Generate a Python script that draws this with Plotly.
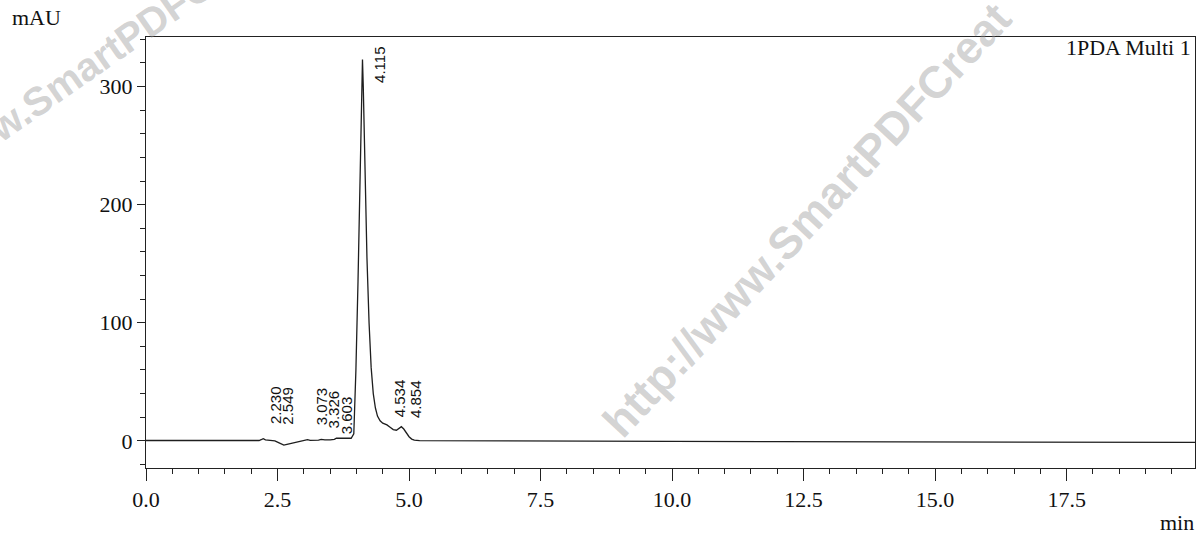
import numpy as np
import plotly.graph_objects as go

# ---------------- data ----------------
time_min = [0.0, 1.0, 2.0, 2.15, 2.20, 2.23, 2.27, 2.35, 2.45, 2.52, 2.58, 2.62, 2.70, 2.80,
            2.95, 3.03, 3.07, 3.12, 3.20, 3.28, 3.33, 3.40, 3.50, 3.58, 3.62, 3.75, 3.90,
            3.95, 3.99, 4.03, 4.07, 4.10, 4.115, 4.13, 4.16, 4.20, 4.24, 4.28, 4.32, 4.36,
            4.40, 4.45, 4.50, 4.534, 4.58, 4.64, 4.70, 4.76, 4.81, 4.854, 4.90, 4.95, 5.00,
            5.05, 5.10, 5.20, 6.0, 8.0, 10.0, 12.0, 14.0, 16.0, 18.0, 19.94]
signal_mau = [0.3, 0.3, 0.2, 0.3, 1.2, 1.8, 0.8, 0.2, 0.0, -1.5, -3.2, -3.6, -2.8, -1.8,
              -0.8, 0.2, 1.0, 0.4, 0.3, 0.6, 1.2, 0.8, 0.9, 1.2, 2.2, 2.0, 2.2,
              6.0, 60.0, 135.0, 225.0, 295.0, 323.0, 300.0, 230.0, 155.0, 100.0, 62.0, 40.0, 28.0,
              21.0, 17.0, 15.0, 14.5, 13.5, 11.5, 9.5, 9.0, 11.0, 12.0, 10.0, 6.5, 3.5,
              1.5, 0.6, 0.2, 0.0, -0.3, -0.5, -0.7, -0.9, -1.0, -1.2, -1.3]

peak_times = [2.230, 2.549, 3.073, 3.326, 3.603, 4.115, 4.534, 4.854]
peak_labels = ["2.230", "2.549", "3.073", "3.326", "3.603", "4.115", "4.534", "4.854"]

x_tick_vals = [0.0, 2.5, 5.0, 7.5, 10.0, 12.5, 15.0, 17.5]
x_tick_text = ["0.0", "2.5", "5.0", "7.5", "10.0", "12.5", "15.0", "17.5"]
y_tick_vals = [0, 100, 200, 300]
y_tick_text = ["0", "100", "200", "300"]

# ---------------- style / placement ----------------
W, H = 1198, 535
ML, MR, MT, MB = 146, 3, 37, 67
label_xshift = [12, 7, 14, 13, 11, 17, 15, 14]
label_yshift = [13, 17, 12, 9, 2, -25, 4, 7]
SERIF = "Liberation Serif, Times New Roman, serif"
SANS = "Liberation Sans, Arial, sans-serif"


def paper(xp, yp):
    return (xp - ML) / (W - ML - MR), (H - MB - yp) / (H - MT - MB)


fig = go.Figure()
fig.add_trace(go.Scatter(x=time_min, y=signal_mau, mode="lines",
                         line=dict(color="#1e1e1e", width=1.3), showlegend=False,
                         hoverinfo="skip"))

annotations = []

# watermark of the scanned source (drawn first, behind everything)
for (txt, cx, cy, ang, fs) in [("w.SmartPDFCreat", 130, 36, -35, 40),
                               ("http://www.SmartPDFCreat", 806, 220, -47, 45)]:
    px_, py_ = paper(cx, cy)
    annotations.append(dict(x=px_, y=py_, xref="paper", yref="paper", text=txt,
                            showarrow=False, textangle=ang, xanchor="center", yanchor="middle",
                            font=dict(family=SANS, size=fs, color="rgba(150,150,150,0.42)",
                                      weight="bold")))

for t, lab, dx, dy in zip(peak_times, peak_labels, label_xshift, label_yshift):
    yv = float(np.interp(t, time_min, signal_mau))
    annotations.append(dict(x=t, y=yv, xref="x", yref="y", text=lab, showarrow=False,
                            textangle=-90, xanchor="center", yanchor="bottom",
                            xshift=dx, yshift=dy,
                            font=dict(family=SANS, size=15, color="#111")))

px_, py_ = paper(10, 18)
annotations.append(dict(x=px_, y=py_, xref="paper", yref="paper", text="mAU", showarrow=False,
                        xanchor="left", yanchor="middle",
                        font=dict(family=SERIF, size=22, color="#111")))
px_, py_ = paper(1196, 522)
annotations.append(dict(x=px_, y=py_, xref="paper", yref="paper", text="min", showarrow=False,
                        xanchor="right", yanchor="middle",
                        font=dict(family=SERIF, size=22, color="#111")))
px_, py_ = paper(1193, 48)
annotations.append(dict(x=px_, y=py_, xref="paper", yref="paper", text="1PDA Multi 1",
                        showarrow=False, xanchor="right", yanchor="middle",
                        font=dict(family=SERIF, size=22, color="#111")))

fig.update_layout(
    width=W, height=H,
    margin=dict(l=ML, r=MR, t=MT, b=MB, pad=0),
    paper_bgcolor="white", plot_bgcolor="white",
    annotations=annotations,
    xaxis=dict(range=[0, 19.94], showgrid=False, zeroline=False,
               showline=True, linecolor="#222", linewidth=1, mirror=True,
               ticks="outside", ticklen=12, tickwidth=1, tickcolor="#222",
               tickvals=x_tick_vals, ticktext=x_tick_text,
               tickfont=dict(family=SERIF, size=22, color="#111"),
               minor=dict(dtick=0.5, tick0=0, ticks="outside", ticklen=5,
                          tickcolor="#222", tickwidth=1, showgrid=False)),
    yaxis=dict(range=[-23, 342], showgrid=False, zeroline=False,
               showline=True, linecolor="#222", linewidth=1, mirror=True,
               ticks="outside", ticklen=8, tickwidth=1, tickcolor="#222",
               tickvals=y_tick_vals, ticktext=y_tick_text,
               tickfont=dict(family=SERIF, size=22, color="#111"),
               ticklabelstandoff=0,
               minor=dict(dtick=20, tick0=0, ticks="outside", ticklen=5,
                          tickcolor="#222", tickwidth=1, showgrid=False)),
)

fig.write_html("out.html")
